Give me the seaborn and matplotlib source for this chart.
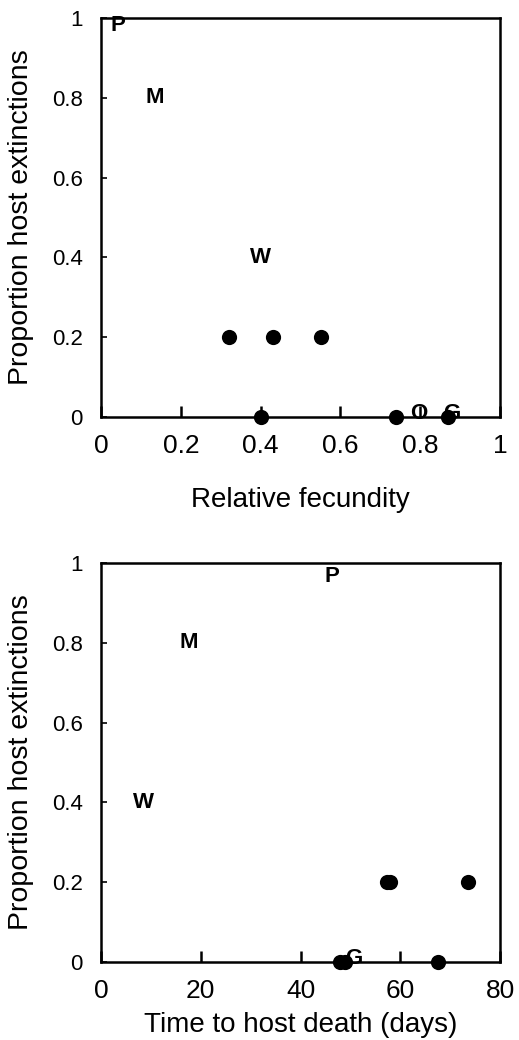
import numpy as np
import pandas as pd
import matplotlib
matplotlib.use("Agg")
import matplotlib.pyplot as plt
import seaborn as sns

# top panel: relative fecundity
fec_x = [0.32, 0.43, 0.55, 0.40, 0.74, 0.87]
fec_y = [0.2, 0.2, 0.2, 0.0, 0.0, 0.0]
fec_lab = ["P", "M", "W", "O", "G"]
fec_lab_x = [0.043, 0.135, 0.40, 0.795, 0.88]
fec_lab_y = [0.98, 0.8, 0.4, 0.01, 0.01]

# bottom panel: time to host death
time_x = [48.0, 49.0, 57.3, 58.0, 73.5, 67.6]
time_y = [0.0, 0.0, 0.2, 0.2, 0.2, 0.0]
time_lab = ["P", "M", "W", "G"]
time_lab_x = [46.3, 17.5, 8.5, 50.6]
time_lab_y = [0.965, 0.8, 0.4, 0.01]

sns.set_style("white")
plt.rcParams['font.family'] = ['Liberation Sans', 'DejaVu Sans']
plt.rcParams['text.color'] = 'black'
plt.rcParams['axes.labelcolor'] = 'black'
plt.rcParams['xtick.color'] = 'black'
plt.rcParams['ytick.color'] = 'black'

fig = plt.figure(figsize=(5.19, 10.4), dpi=100)
ax1 = fig.add_axes([0.1946, 0.599, 0.769, 0.3837])
ax2 = fig.add_axes([0.1946, 0.075, 0.769, 0.3837])


def fmt(v, pos):
    return "%g" % v


for ax, xs, ys, lab, lx, ly, xmax, xlabel, xly in [
    (ax1, fec_x, fec_y, fec_lab, fec_lab_x, fec_lab_y, 1.0, "Relative fecundity", -0.208),
    (ax2, time_x, time_y, time_lab, time_lab_x, time_lab_y, 80, "Time to host death (days)", -0.157),
]:
    df = pd.DataFrame({"x": xs, "y": ys})
    sns.scatterplot(data=df, x="x", y="y", ax=ax, color="black", s=120,
                    edgecolor="black", linewidth=0, zorder=3, clip_on=False)
    for t, x, y in zip(lab, lx, ly):
        ax.text(x, y, t, ha="center", va="center", fontsize=16,
                fontweight="bold", zorder=4, clip_on=False)
    ax.set_xlim(0, xmax)
    ax.set_ylim(0, 1)
    ax.set_xticks(np.linspace(0, xmax, 5 if xmax == 80 else 6))
    ax.set_yticks([0, 0.2, 0.4, 0.6, 0.8, 1.0])
    ax.xaxis.set_major_formatter(plt.FuncFormatter(fmt))
    ax.yaxis.set_major_formatter(plt.FuncFormatter(fmt))
    ax.tick_params(axis="x", direction="in", length=8, width=1.8, labelsize=19,
                   pad=12, bottom=True)
    ax.tick_params(axis="y", direction="in", length=4, width=1.2, labelsize=16,
                   pad=13, left=True)
    for sp in ax.spines.values():
        sp.set_linewidth(1.8)
        sp.set_color("black")
    ax.set_ylabel("Proportion host extinctions", fontsize=20.5, va="center")
    ax.yaxis.set_label_coords(-0.2, 0.5)
    ax.set_xlabel(xlabel, fontsize=20, va="center")
    ax.xaxis.set_label_coords(0.5, xly)

fig.savefig("out.png", dpi=100)
